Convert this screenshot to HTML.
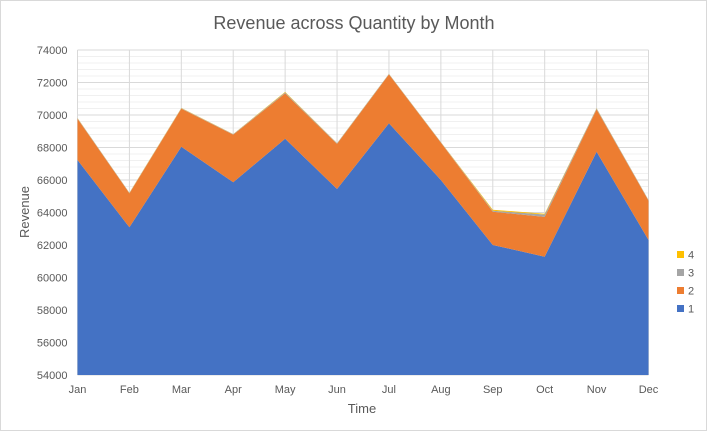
<!DOCTYPE html>
<html><head><meta charset="utf-8"><style>
body{margin:0;background:#fff;font-family:"Liberation Sans",sans-serif}
svg{display:block}
</style></head><body>
<svg id="c" width="707" height="431">
<rect x="0.5" y="0.5" width="706" height="430" fill="#fff" stroke="#d9d9d9"/>
<text x="354" y="29" text-anchor="middle" font-size="18" fill="#595959">Revenue across Quantity by Month</text>
<g id="grid"></g><g id="areas"></g><g id="axes"></g>
<text x="362" y="413" text-anchor="middle" font-size="13" fill="#595959">Time</text>
<text transform="translate(29,212) rotate(-90)" text-anchor="middle" font-size="13" fill="#595959">Revenue</text>
<g id="legend"></g>
</svg>
<script>
const months=["Jan","Feb","Mar","Apr","May","Jun","Jul","Aug","Sep","Oct","Nov","Dec"];
const s1=[67230,63090,68050,65860,68540,65450,69490,66000,62000,61280,67740,62310];
const s2=[2540,2090,2340,2930,2790,2770,3010,2300,2050,2450,2610,2420];
const s3=[40,30,30,30,60,40,30,30,60,150,60,40];
const s4=[10,10,20,10,30,10,10,10,60,40,10,10];
const yTicks=[54000,56000,58000,60000,62000,64000,66000,68000,70000,72000,74000];
const seriesNames=["1","2","3","4"];
const colors=["#4472c4","#ed7d31","#a5a5a5","#ffc000"];
const X0=77.5,X1=648.5,Y0=375,Y1=50,YMIN=54000,YMAX=74000;
const sx=i=>X0+(X1-X0)*i/(months.length-1);
const sy=v=>Y0-(v-YMIN)/(YMAX-YMIN)*(Y0-Y1);
const NS="http://www.w3.org/2000/svg";
function mk(t,a,p){const e=document.createElementNS(NS,t);for(const k in a)e.setAttribute(k,a[k]);p.appendChild(e);return e;}
const grid=document.getElementById('grid'),areas=document.getElementById('areas'),axes=document.getElementById('axes'),legend=document.getElementById('legend');
for(let v=YMIN;v<=YMAX;v+=400){const l=mk('line',{x1:X0,x2:X1,y1:sy(v),y2:sy(v),stroke:v%2000===0?'#d9d9d9':'#f0f0f0','stroke-width':1},grid);

}
months.forEach((m,i)=>{const l=mk('line',{x1:sx(i),x2:sx(i),y1:Y1,y2:Y0,stroke:'#d9d9d9'},grid);


const t=mk('text',{x:sx(i),y:Y0+18,'text-anchor':'middle','font-size':11,fill:'#595959'},axes);t.textContent=m;

});
yTicks.forEach(v=>{const t=mk('text',{x:X0-10,y:sy(v)+4,'text-anchor':'end','font-size':11,fill:'#595959'},axes);t.textContent=v;

});
const all=[s1,s2,s3,s4];let base=months.map(()=>YMIN);
all.forEach((s,k)=>{const top=base.map((b,i)=>(k===0?s[i]:b+s[i]));
let d='M'+months.map((m,i)=>sx(i)+','+sy(top[i])).join('L');
for(let i=months.length-1;i>=0;i--)d+='L'+sx(i)+','+sy(base[i]);d+='Z';
const p=mk('path',{d:d,fill:colors[k]},areas);


base=top;});
const ly=[255,273,291,309];
[3,2,1,0].forEach((k,j)=>{const g=mk('g',{},legend);


mk('rect',{x:677,y:ly[j]-4,width:7,height:7,fill:colors[k]},g);
const t=mk('text',{x:688,y:ly[j]+3.5,'font-size':11,fill:'#595959'},g);t.textContent=seriesNames[k];});
</script>
</body></html>
